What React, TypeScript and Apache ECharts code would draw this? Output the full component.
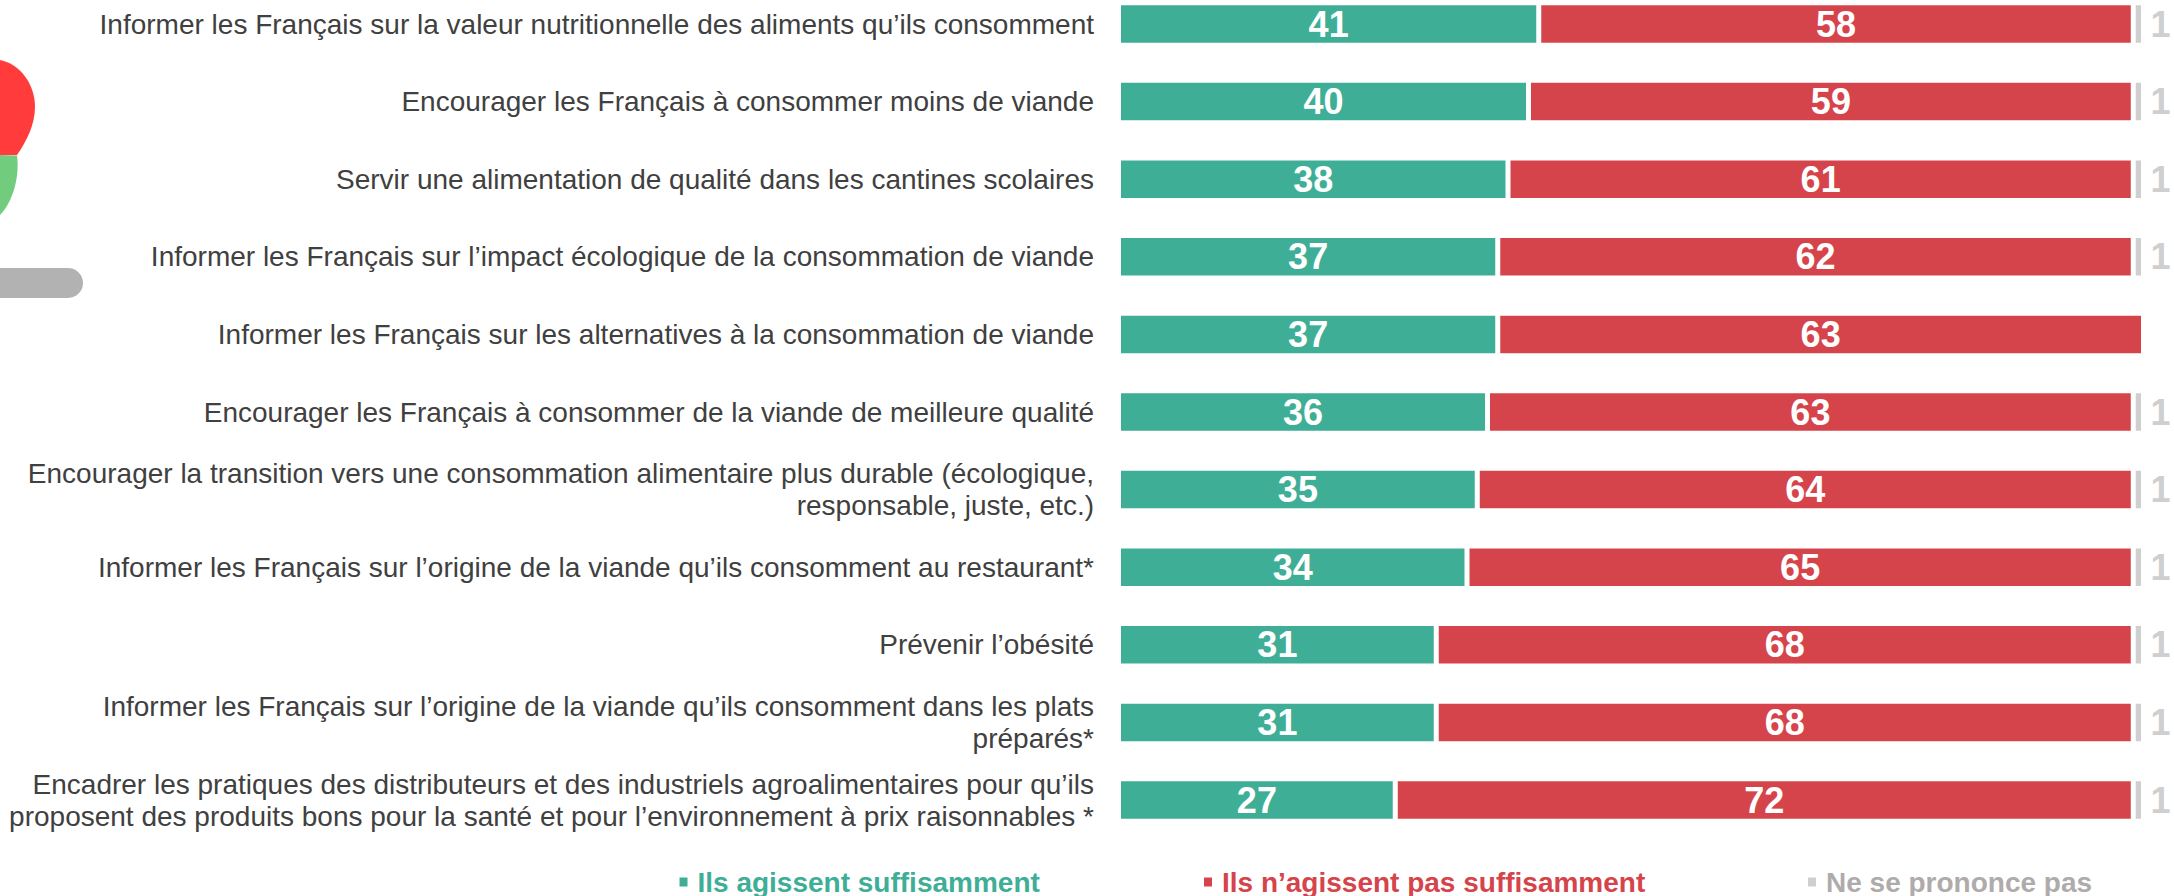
import React, { useEffect, useRef } from "react";
import * as echarts from "echarts";

const categories = [
  "Informer les Français sur la valeur nutritionnelle des aliments qu’ils consomment",
  "Encourager les Français à consommer moins de viande",
  "Servir une alimentation de qualité dans les cantines scolaires",
  "Informer les Français sur l’impact écologique de la consommation de viande",
  "Informer les Français sur les alternatives à la consommation de viande",
  "Encourager les Français à consommer de la viande de meilleure qualité",
  "Encourager la transition vers une consommation alimentaire plus durable (écologique,\nresponsable, juste, etc.)",
  "Informer les Français sur l’origine de la viande qu’ils consomment au restaurant*",
  "Prévenir l’obésité",
  "Informer les Français sur l’origine de la viande qu’ils consomment dans les plats\npréparés*",
  "Encadrer les pratiques des distributeurs et des industriels agroalimentaires pour qu’ils\nproposent des produits bons pour la santé et pour l’environnement à prix raisonnables *",
];
const suffisamment = [41, 40, 38, 37, 37, 36, 35, 34, 31, 31, 27];
const pasSuffisamment = [58, 59, 61, 62, 63, 63, 64, 65, 68, 68, 72];
const nsp = [1, 1, 1, 1, null, 1, 1, 1, 1, 1, 1];

const GREEN = "#3FAE96";
const RED = "#D6444B";
const GREY = "#CFCFCF";
const SHIFT = 20;

echarts.graphic.registerShape(
  "redBlob",
  echarts.graphic.extendPath("M0 60C20 64 35 84 35 107C35 125 26 142 17 155L0 155Z", {}) as any
);
echarts.graphic.registerShape(
  "greenBlob",
  echarts.graphic.extendPath("M0 155L17 155.5C20 178 12 203 0 215Z", {}) as any
);

const barLabel = { show: true, position: "inside" as const, color: "#fff", fontFamily: "Liberation Sans", fontWeight: "bold" as const, fontSize: 36 };
const legendBase = { top: 863 + SHIFT, itemWidth: 10, itemHeight: 11, icon: "rect", itemGap: 7, selectedMode: false };
const legendText = (color: string) => ({ color, fontFamily: "Liberation Sans", fontWeight: "bold", fontSize: 28, padding: [0, 0, 0, 4] });

export default function App() {
  const ref = useRef<HTMLDivElement>(null);
  useEffect(() => {
    const chart = echarts.init(ref.current!, undefined, { renderer: "svg" });
    const mk = (name: string, data: any[], color: string, label: any) => ({
      name,
      type: "bar",
      stack: "t",
      data,
      barWidth: 42.5,
      itemStyle: { color, borderColor: "#fff", borderWidth: 2.5 },
      label,
    });
    chart.setOption({
      animation: false,
      backgroundColor: "#fff",
      grid: { left: 1118.5, width: 1025, top: SHIFT - 14.8, height: 853.6, containLabel: false },
      xAxis: { type: "value", min: 0, max: 100, show: false },
      yAxis: {
        type: "category",
        inverse: true,
        data: categories,
        axisLine: { show: false },
        axisTick: { show: false },
        axisLabel: { color: "#404040", fontFamily: "Liberation Sans", fontSize: 28, lineHeight: 32, margin: 24.5, align: "right", interval: 0, padding: [0, 0, 2, 0] },
      },
      legend: [
        { ...legendBase, left: 672.5, data: ["Ils agissent suffisamment"], textStyle: legendText(GREEN) },
        { ...legendBase, left: 1197, data: ["Ils n’agissent pas suffisamment"], textStyle: legendText(RED) },
        { ...legendBase, left: 1801, data: ["Ne se prononce pas"], textStyle: legendText("#AFABAB") },
      ],
      series: [
        mk("Ils agissent suffisamment", suffisamment, GREEN, barLabel),
        mk("Ils n’agissent pas suffisamment", pasSuffisamment, RED, barLabel),
        mk("Ne se prononce pas", nsp, GREY, { ...barLabel, position: "right", distance: 7, color: GREY }),
      ],
      graphic: [
        { type: "redBlob", x: 0, y: SHIFT, silent: true, style: { fill: "#FF3B3B" } },
        { type: "greenBlob", x: 0, y: SHIFT, silent: true, style: { fill: "#72CC7E" } },
        { type: "rect", silent: true, shape: { x: -40, y: 268 + SHIFT, width: 123, height: 30, r: 15 }, style: { fill: "#B2B2B2" } },
      ],
    });
    return () => chart.dispose();
  }, []);
  return <div ref={ref} style={{ position: "fixed", left: 0, top: -SHIFT, width: 2174, height: 896 + 2 * SHIFT }} />;
}
